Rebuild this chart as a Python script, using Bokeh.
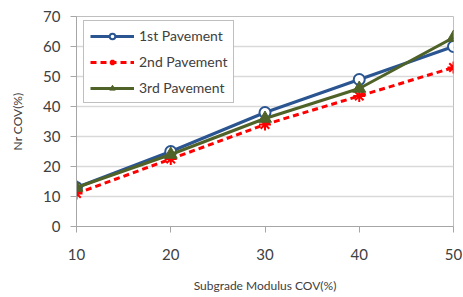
from bokeh.plotting import figure
from bokeh.models import Range1d, Legend, LegendItem, FixedTicker
from bokeh.embed import file_html
from bokeh.resources import INLINE

x_vals = [10, 20, 30, 40, 50]
pav1 = [13, 25, 38, 49, 60]
pav2 = [11, 22.5, 34, 43.5, 53]
pav3 = [13, 24, 36, 46, 63]
y_ticks = [0, 10, 20, 30, 40, 50, 60, 70]
names = ["1st Pavement", "2nd Pavement", "3rd Pavement"]

FONT = "Lato"
p = figure(width=463, height=297, output_backend="svg", toolbar_location=None,
           x_range=Range1d(10, 50), y_range=Range1d(0, 70),
           min_border_left=76, min_border_right=10, min_border_top=16, min_border_bottom=71)
p.outline_line_color = "#bfbfbf"
p.background_fill_color = "white"
p.border_fill_color = "white"

p.xaxis.ticker = FixedTicker(ticks=x_vals)
p.yaxis.ticker = FixedTicker(ticks=y_ticks)
for ax in (p.xaxis[0], p.yaxis[0]):
    ax.axis_line_color = "#a6a6a6"
    ax.major_tick_line_color = "#a6a6a6"
    ax.major_tick_out = 6
    ax.major_tick_in = 0
    ax.minor_tick_line_color = None
    ax.major_label_text_font = FONT
    ax.major_label_text_font_size = "15px"
    ax.major_label_text_color = "#404040"
    ax.axis_label_text_font = FONT
    ax.axis_label_text_font_size = "12px"
    ax.axis_label_text_font_style = "normal"
    ax.axis_label_text_color = "#404040"
p.xaxis.major_label_standoff = 16
p.yaxis.major_label_standoff = 10
p.xaxis.axis_label = "Subgrade Modulus COV(%)"
p.yaxis.axis_label = "Nr COV(%)"
p.xaxis.axis_label_standoff = 15
p.yaxis.axis_label_standoff = 15
p.xgrid.grid_line_color = None
p.ygrid.grid_line_color = "#d9d9d9"
p.ygrid.grid_line_width = 1.5

blue = "#2a5591"
red = "#ff0000"
green = "#4f6228"

l1 = p.line(x_vals, pav1, line_color=blue, line_width=3)
m1 = p.scatter(x_vals, pav1, marker="circle", size=11, fill_color="white", line_color=blue, line_width=2)
l2 = p.line(x_vals, pav2, line_color=red, line_width=3, line_dash="6 4")
m2 = p.scatter(x_vals, pav2, marker="asterisk", size=12, line_color=red, line_width=2)
l3 = p.line(x_vals, pav3, line_color=green, line_width=3)
m3 = p.scatter(x_vals, pav3, marker="triangle", size=13, fill_color=green, line_color=green)

legend = Legend(items=[LegendItem(label=names[0], renderers=[l1, m1]),
                       LegendItem(label=names[1], renderers=[l2, m2]),
                       LegendItem(label=names[2], renderers=[l3, m3])],
                location=(7, 123))
legend.label_text_font = FONT
legend.label_text_font_size = "14px"
legend.label_text_color = "#404040"
legend.border_line_color = "#7f7f7f"
legend.border_line_width = 1.5
legend.glyph_width = 44
legend.glyph_height = 14
legend.label_height = 14
legend.spacing = 9
legend.padding = 6
legend.margin = 0
legend.label_standoff = 5
p.add_layout(legend, "center")

open("out.html", "w").write(file_html(p, INLINE))
